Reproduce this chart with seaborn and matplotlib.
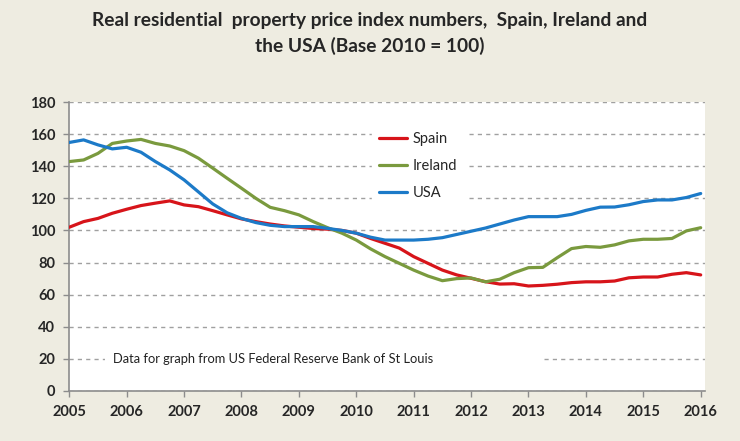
"""
Real residential property price index, Spain / Ireland / USA
"""
import matplotlib
matplotlib.use("Agg")
import matplotlib.pyplot as plt
from matplotlib.patches import Rectangle
import seaborn as sns
import pandas as pd

# quarterly observations, 2005Q1 .. 2016Q1 (Base 2010 = 100)
quarters = pd.period_range("2005Q1", "2016Q1", freq="Q")

spain = [102.0, 105.5, 107.5, 110.7, 113.2, 115.5, 117.0, 118.4, 115.9, 114.8,
         112.3, 109.7, 107.2, 105.5, 104.0, 102.8, 102.0, 101.2, 100.8, 100.0,
         98.3, 95.0, 92.0, 89.0, 83.7, 79.5, 75.3, 72.3, 70.2, 68.1,
         66.6, 66.8, 65.4, 65.8, 66.5, 67.5, 68.0, 68.0, 68.5, 70.5,
         71.0, 71.0, 72.7, 73.7, 72.3]
ireland = [142.9, 143.9, 148.0, 154.2, 155.7, 156.7, 154.2, 152.6, 149.7, 145.0,
           138.8, 132.5, 126.3, 120.0, 114.4, 112.3, 109.7, 105.5, 101.7, 98.3,
           94.0, 88.5, 83.7, 79.5, 75.3, 71.6, 68.7, 70.0, 70.4, 68.0,
           69.6, 73.7, 76.8, 77.0, 83.0, 88.7, 90.0, 89.5, 91.0, 93.5,
           94.5, 94.5, 95.0, 99.7, 101.7]
usa = [154.8, 156.4, 153.3, 150.8, 151.8, 148.7, 142.9, 137.7, 131.5, 124.0,
       116.5, 111.0, 107.5, 104.9, 103.2, 102.4, 102.4, 102.4, 101.3, 100.0,
       98.3, 95.8, 94.0, 94.0, 94.0, 94.5, 95.5, 97.5, 99.5, 101.5,
       104.0, 106.5, 108.6, 108.6, 108.6, 110.0, 112.5, 114.5, 114.6, 116.0,
       118.0, 119.0, 119.0, 120.5, 123.0]

countries = ["Spain", "Ireland", "USA"]
colors = {"Spain": "#D7141A", "Ireland": "#7A9A3E", "USA": "#1C7AC8"}

year_ticks = list(range(2005, 2017))
y_ticks = list(range(0, 181, 20))

# build long table for seaborn
t = quarters.year + (quarters.quarter - 1) / 4.0
df = pd.concat([
    pd.DataFrame({"time": t, "index": vals, "country": name})
    for name, vals in zip(countries, [spain, ireland, usa])
])

sns.set_style("ticks")
plt.rcParams["font.family"] = ["Lato", "DejaVu Sans"]

bg = "#EEECE1"
fig = plt.figure(figsize=(7.4, 4.41), dpi=100, facecolor=bg)
ax = fig.add_axes([0.0936, 0.1134, 0.8591, 0.6553])
ax.set_facecolor("white")

sns.lineplot(data=df, x="time", y="index", hue="country", hue_order=countries,
             palette=colors, linewidth=2.3, ax=ax, legend=False, zorder=3)

ax.set_xlim(2005, 2016.075)
ax.set_ylim(0, 180)
ax.set_xticks(year_ticks)
ax.set_xticklabels([str(y) for y in year_ticks])
ax.set_yticks(y_ticks)
ax.set_xlabel("")
ax.set_ylabel("")

ax.yaxis.grid(True, color="#A0A0A0", linestyle=(0, (3, 3)), linewidth=1.0)
ax.set_axisbelow(True)
for s in ["top", "right"]:
    ax.spines[s].set_visible(False)
for s in ["left", "bottom"]:
    ax.spines[s].set_color("#8C8C8C")
    ax.spines[s].set_linewidth(1.2)
ax.tick_params(axis="both", length=4, width=1, color="#8C8C8C",
               labelsize=10.5, pad=6)
for lab in ax.get_xticklabels() + ax.get_yticklabels():
    lab.set_fontweight("bold")

# legend (white box hides the grid behind it)
handles = [plt.Line2D([], [], color=colors[c], linewidth=2.3) for c in countries]
leg = ax.legend(handles, countries, loc="upper left",
                bbox_to_anchor=(0.465, 0.946), frameon=True, fontsize=10.5,
                handlelength=1.9, handletextpad=0.4, labelspacing=0.88,
                borderpad=0.5)
leg.get_frame().set_facecolor("white")
leg.get_frame().set_edgecolor("white")
leg.get_frame().set_alpha(1)

# source note on a white strip over the 20 grid line
ax.add_patch(Rectangle((0.056, 0.075), 0.69, 0.07, transform=ax.transAxes,
                       facecolor="white", edgecolor="none", zorder=2))
ax.text(0.069, 0.111, "Data for graph from US Federal Reserve Bank of St Louis",
        transform=ax.transAxes, fontsize=9.3, va="center", ha="left",
        color="#222222", zorder=4)

fig.text(0.5, 0.953, "Real residential  property price index numbers,  Spain, Ireland and",
         ha="center", va="center", fontsize=13.8, fontweight="bold")
fig.text(0.5, 0.895, "the USA (Base 2010 = 100)",
         ha="center", va="center", fontsize=13.8, fontweight="bold")

fig.savefig("out.png", dpi=100, facecolor=bg)
